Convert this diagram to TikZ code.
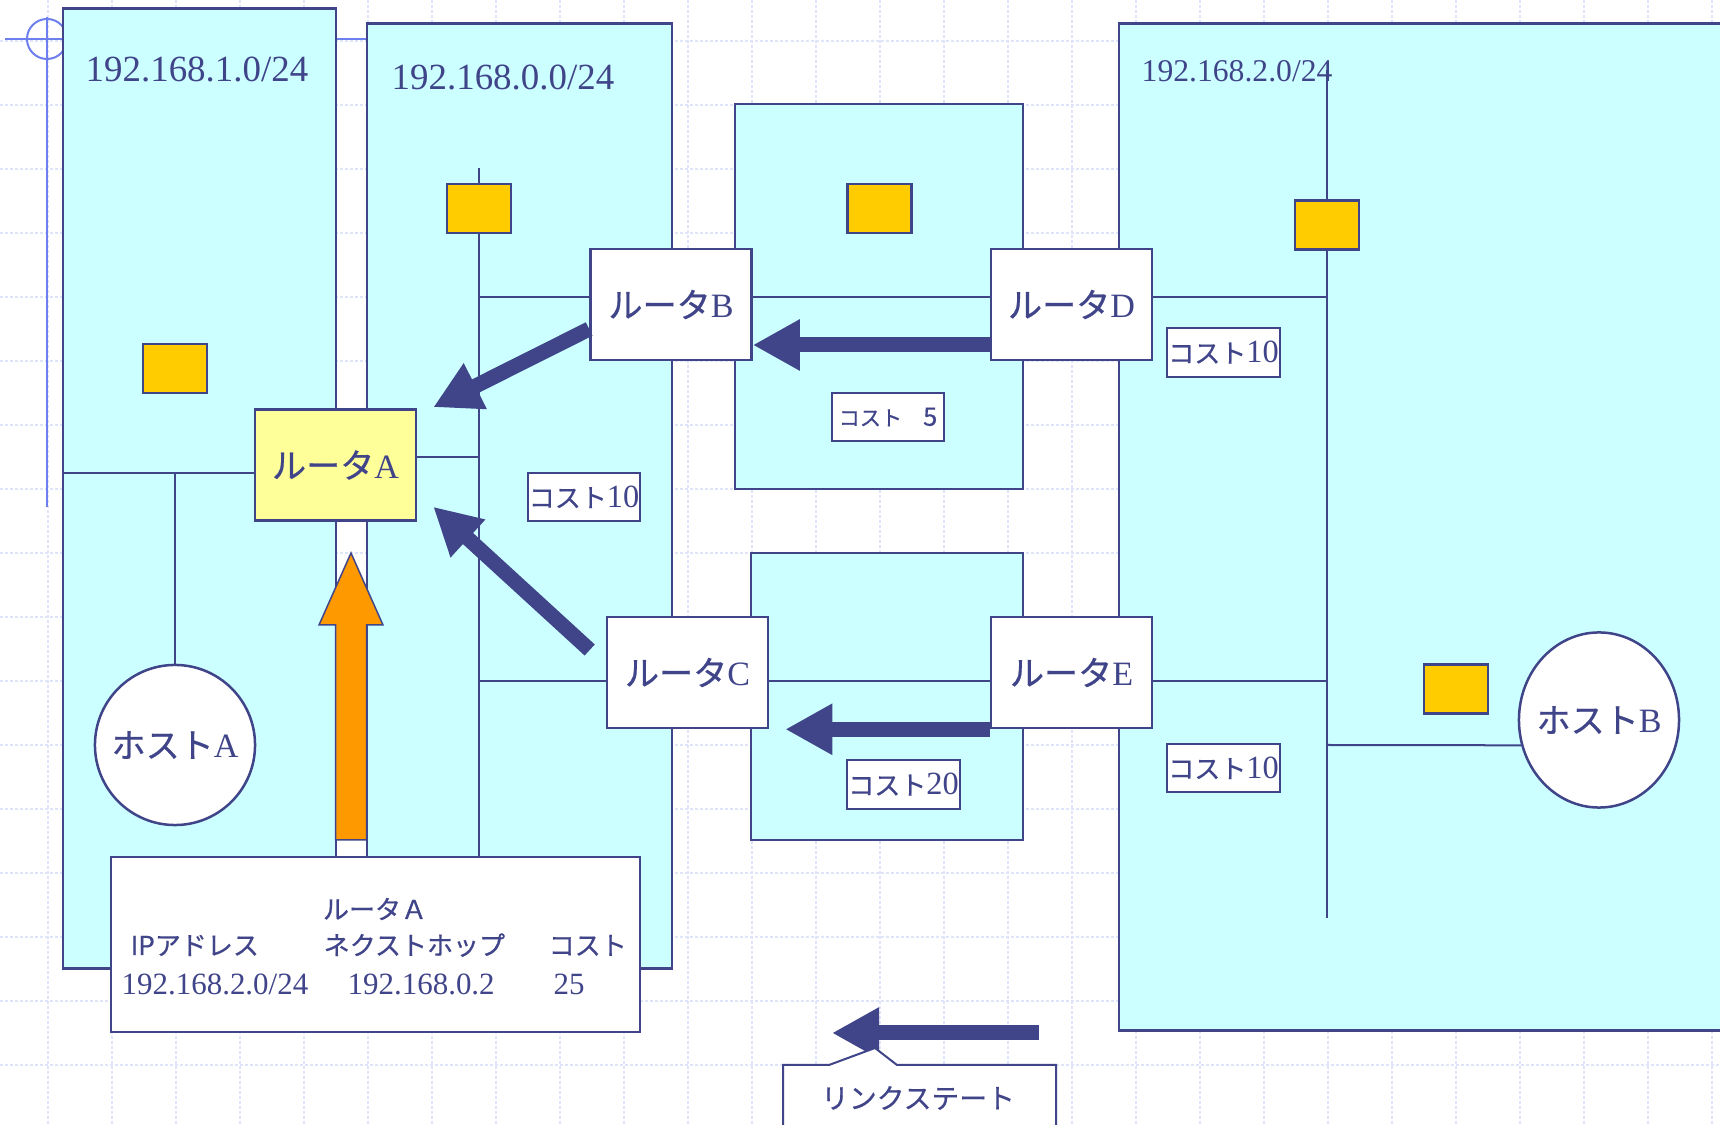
\documentclass[tikz,border=0pt]{standalone}
\usepackage{fontspec}
\setmainfont{Liberation Serif}
\newfontfamily\jp[FakeBold=0.6]{Noto Sans CJK JP}
\usetikzlibrary{arrows.meta,shapes.geometric,calc}
\definecolor{navy}{RGB}{64,68,137}
\definecolor{lancyan}{RGB}{204,255,255}
\definecolor{nicyellow}{RGB}{255,204,0}
\definecolor{routerA}{RGB}{255,255,153}
\definecolor{uporange}{RGB}{255,153,0}
\definecolor{deco}{RGB}{110,128,238}
\definecolor{gridblue}{RGB}{224,228,250}
\newcommand{\kana}[1]{{\jp #1}}
\newcommand{\num}[1]{{\fontsize{9.2}{10}\selectfont #1}}
\begin{document}
\begin{tikzpicture}[x=0.01cm, y=-0.01cm, text=navy,
    netbox/.style={draw=navy, fill=lancyan, line width=0.025cm, inner sep=0pt},
    netlabel/.style={anchor=base west, inner sep=0pt, font=\fontsize{10.5}{12}\selectfont},
    router/.style={draw=navy, fill=white, line width=0.025cm, inner sep=0pt,
        minimum width=1.61cm, minimum height=1.11cm, font=\fontsize{9.7}{11}\selectfont},
    host/.style={ellipse, draw=navy, fill=white, line width=0.025cm, inner sep=0pt,
        minimum width=1.6cm, font=\fontsize{9.7}{11}\selectfont},
    nic/.style={draw=navy, fill=nicyellow, line width=0.025cm, inner sep=0pt,
        minimum width=0.64cm, minimum height=0.49cm},
    cost/.style={draw=navy, fill=white, line width=0.02cm, inner sep=0pt,
        minimum width=1.12cm, minimum height=0.48cm, font=\fontsize{7.4}{9}\selectfont},
    wire/.style={navy, line width=0.02cm},
    flow/.style={navy, line width=0.15cm, -{Triangle[length=0.47cm, width=0.48cm]}},
    tbltext/.style={anchor=base west, inner sep=0pt, font=\fontsize{7.4}{9}\selectfont},
    gridline/.style={gridblue, line width=0.012cm, dash pattern=on 0.03cm off 0.02cm}]
    \clip (0,0) rectangle (1720,1125);
    \fill[white] (0,0) rectangle (1720,1125);
    \foreach \gx in {48,112,...,1712}
        \draw[gridline] (\gx,0) -- (\gx,1125);
    \foreach \gy in {41,105,...,1065}
        \draw[gridline] (0,\gy) -- (1720,\gy);

    \draw[deco, line width=0.02cm] (5,39) -- (367,39);
    \draw[deco, line width=0.02cm] (47,17) -- (47,507);
    \draw[deco, line width=0.02cm] (47,39) circle[radius=0.2cm];

    \node[netbox, minimum width=2.73cm, minimum height=9.59cm] (net1) at (199.5,488.5) {};
    \node[netbox, minimum width=3.05cm, minimum height=9.44cm] (net0) at (519.5,496) {};
    \node[netbox, minimum width=2.88cm, minimum height=3.85cm] (lnk1) at (879,296.5) {};
    \node[netbox, minimum width=2.72cm, minimum height=2.87cm] (lnk2) at (887,696.5) {};
    \node[netbox, minimum width=6.41cm, minimum height=10.06cm] (net2) at (1439.5,527) {};

    \node[netlabel] (lbl1) at (85,82) {192.168.1.0/24};
    \node[netlabel] (lbl0) at (391,90) {192.168.0.0/24};
    \node[netlabel, font=\fontsize{9}{11}\selectfont] (lbl2) at (1141,82) {192.168.2.0/24};

    \node[router, fill=routerA] (rA) at (335.5,465) {\kana{ルータ}A};
    \node[router] (rB) at (671,304.5) {\kana{ルータ}B};
    \node[router] (rD) at (1071.5,304.5) {\kana{ルータ}D};
    \node[router] (rC) at (687.5,672.5) {\kana{ルータ}C};
    \node[router] (rE) at (1071.5,672.5) {\kana{ルータ}E};
    \node[host, minimum height=1.6cm] (hA) at (175,745) {\makebox[0pt]{\kana{ホスト}A}};
    \node[host, minimum height=1.75cm] (hB) at (1599,720) {\makebox[0pt]{\kana{ホスト}B}};

    \coordinate (busA) at (175,473);
    \coordinate (bus0) at (479,168);
    \coordinate (bus0end) at (479,860);
    \coordinate (bus2) at (1327,70);
    \coordinate (bus2end) at (1327,918);
    \coordinate (j0A) at (479,457);
    \coordinate (j0B) at (479,297);
    \coordinate (j0C) at (479,681);
    \coordinate (j2D) at (1327,297);
    \coordinate (j2E) at (1327,681);
    \coordinate (j2H) at (1327,745);

    \draw[wire] (bus0) -- (bus0end);
    \draw[wire] (bus2) -- (bus2end);
    \draw[wire] (busA -| net1.west) -- (busA -| rA.west);
    \draw[wire] (busA) -- (hA.north);
    \draw[wire] (rA.east |- j0A) -- (j0A);
    \draw[wire] (j0B) -- (j0B -| rB.west);
    \draw[wire] (j0B -| rB.east) -- (j0B -| rD.west);
    \draw[wire] (j2D -| rD.east) -- (j2D);
    \draw[wire] (j0C) -- (j0C -| rC.west);
    \draw[wire] (j0C -| rC.east) -- (j0C -| rE.west);
    \draw[wire] (j2E -| rE.east) -- (j2E);
    \draw[wire] (j2H) -- (hB.198);

    \node[nic] (nic1) at (175,368.5) {};
    \node[nic] (nic0) at (479,208.5) {};
    \node[nic] (nicBD) at (879.5,208.5) {};
    \node[nic] (nic2) at (1327,225) {};
    \node[nic] (nicH) at (1456,689) {};

    \node[cost] (c0) at (584,497) {\kana{コスト}\num{10}};
    \node[cost, font=\fontsize{6}{7}\selectfont] (cBD) at (888,417) {\kana{コスト　{\fontsize{7.2}{8}\selectfont 5}}};
    \node[cost] (cCE) at (903.5,784.5) {\kana{コスト}\num{20}};
    \node[cost] (cD) at (1223.5,352.5) {\kana{コスト}\num{10}};
    \node[cost] (cE) at (1223.5,768) {\kana{コスト}\num{10}};

    \draw[flow] ($(rB.west)+(0,24.5)$) -- ($(rA.north east)+(16,-1)$);
    \draw[flow] ($(rC.west)+(-16,-22.5)$) -- ($(rA.south east)+(16,-15)$);
    \draw[flow] ($(rD.west)+(0,40.5)$) -- ($(rB.east)+(0,40.5)$);
    \draw[flow] (rE.south west) -- ($(rC.south east)+(16,0)$);

    \node[draw=navy, fill=white, line width=0.025cm, minimum width=5.29cm, minimum height=1.75cm] (tbl) at (375.5,944.5) {};
    \node[tbltext, anchor=base] (tHead) at (375,919) {\kana{ルータＡ}};
    \node[tbltext] (tIp) at (130,955) {\kana{IPアドレス}};
    \node[tbltext] (tHop) at (323,955) {\kana{ネクストホップ}};
    \node[tbltext] (tCost) at (548,955) {\kana{コスト}};
    \node[tbltext, font=\fontsize{8.8}{10}\selectfont] (tNet) at (121,995) {192.168.2.0/24};
    \node[tbltext, font=\fontsize{8.8}{10}\selectfont] (tNext) at (347,995) {192.168.0.2};
    \node[tbltext, font=\fontsize{8.8}{10}\selectfont] (tVal) at (553,995) {25};

    \coordinate (upTip) at (351,553);
    \coordinate (upTail) at (351,840);
    \draw[navy, fill=uporange, line width=0.015cm] ($(upTail)+(-15.5,0)$) -- ($(upTip)+(-15.5,72)$)
        -- ($(upTip)+(-32,72)$) -- (upTip) -- ($(upTip)+(32,72)$) -- ($(upTip)+(15.5,72)$)
        -- ($(upTail)+(15.5,0)$) -- cycle;

    \coordinate (lsTail) at (1039,1033);
    \coordinate (lsTip) at (832,1033);
    \draw[flow] (lsTail) -- (lsTip);
    \draw[navy, fill=white, line width=0.02cm] (783,1140) -- (783,1065) -- (829,1065) -- (875,1048)
        -- (897,1065) -- (1056,1065) -- (1056,1140);
    \node[font=\fontsize{7.9}{9}\selectfont] (lsText) at (918,1098) {\kana{リンクステート}};
\end{tikzpicture}
\end{document}
